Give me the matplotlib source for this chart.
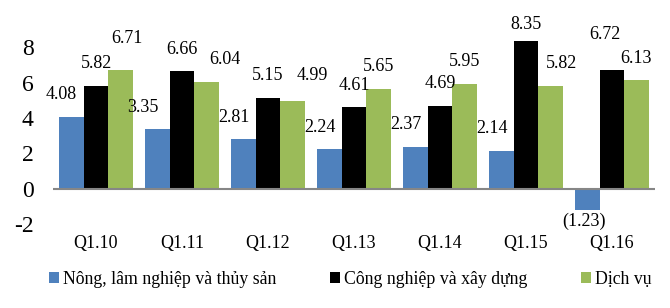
import matplotlib
matplotlib.use("Agg")
import matplotlib.pyplot as plt
import numpy as np

plt.rcParams['font.family'] = ['Liberation Serif', 'DejaVu Serif']

## data
quarters = ["Q1.10", "Q1.11", "Q1.12", "Q1.13", "Q1.14", "Q1.15", "Q1.16"]
series_names = ["Nông, lâm nghiệp và thủy sản", "Công nghiệp và xây dựng", "Dịch vụ"]
nong_nghiep = [4.08, 3.35, 2.81, 2.24, 2.37, 2.14, -1.23]
cong_nghiep = [5.82, 6.66, 5.15, 4.61, 4.69, 8.35, 6.72]
dich_vu = [6.71, 6.04, 4.99, 5.65, 5.95, 5.82, 6.13]
yticks = [-2, 0, 2, 4, 6, 8]

colors = ["#4F81BD", "#000000", "#9BBB59"]

## label nudges in pixels (series index, group index) -> (dx, dy)
nudges = {(0, 1): (-5, 0), (1, 5): (0, -5), (1, 6): (-7, 13),
          (2, 0): (7, 10), (2, 1): (19, 0), (2, 2): (20, 3), (2, 5): (11, 0)}
base_dx = [-10, 0, 0]

fig = plt.figure(figsize=(6.7, 3.08), dpi=100)
ax = fig.add_axes([53/670, 1 - 224/308, 602/670, 212/308])

x = np.arange(len(quarters))
w = 0.283
all_series = [nong_nghiep, cong_nghiep, dich_vu]
for i, vals in enumerate(all_series):
    pos = x + (i - 1) * w
    ax.bar(pos, vals, w, color=colors[i], label=series_names[i], zorder=2)
    for j, v in enumerate(vals):
        dx, dy = nudges.get((i, j), (0, 0))
        dx += base_dx[i]
        if v < 0:
            txt = "(%.2f)" % abs(v)
            ax.annotate(txt, (pos[j], v), xytext=(dx + 6, -11 - dy), textcoords='offset pixels',
                        ha='center', va='center', fontsize=13)
        else:
            ax.annotate("%.2f" % v, (pos[j], v), xytext=(dx, 22 + dy), textcoords='offset pixels',
                        ha='center', va='center', fontsize=13)

ax.axhline(0, color='#868686', lw=1.5, zorder=3)
ax.set_xlim(-0.5, 6.5)
ax.set_ylim(-2, 10)
ax.set_yticks(yticks)
ax.set_yticklabels([str(t) for t in yticks], fontsize=17)
ax.set_xticks(x)
ax.set_xticklabels(quarters, fontsize=13)
ax.tick_params(axis='y', length=0, pad=14)
ax.tick_params(axis='x', length=0, pad=8)
for s in ax.spines.values():
    s.set_visible(False)

fig.legend(loc='center', bbox_to_anchor=(0.523, 1 - 279/308), ncol=3, frameon=False,
           fontsize=12.8, handlelength=0.55, handleheight=0.55, handletextpad=0.25,
           columnspacing=3.0, borderaxespad=0)

fig.savefig("out.png", dpi=100)
